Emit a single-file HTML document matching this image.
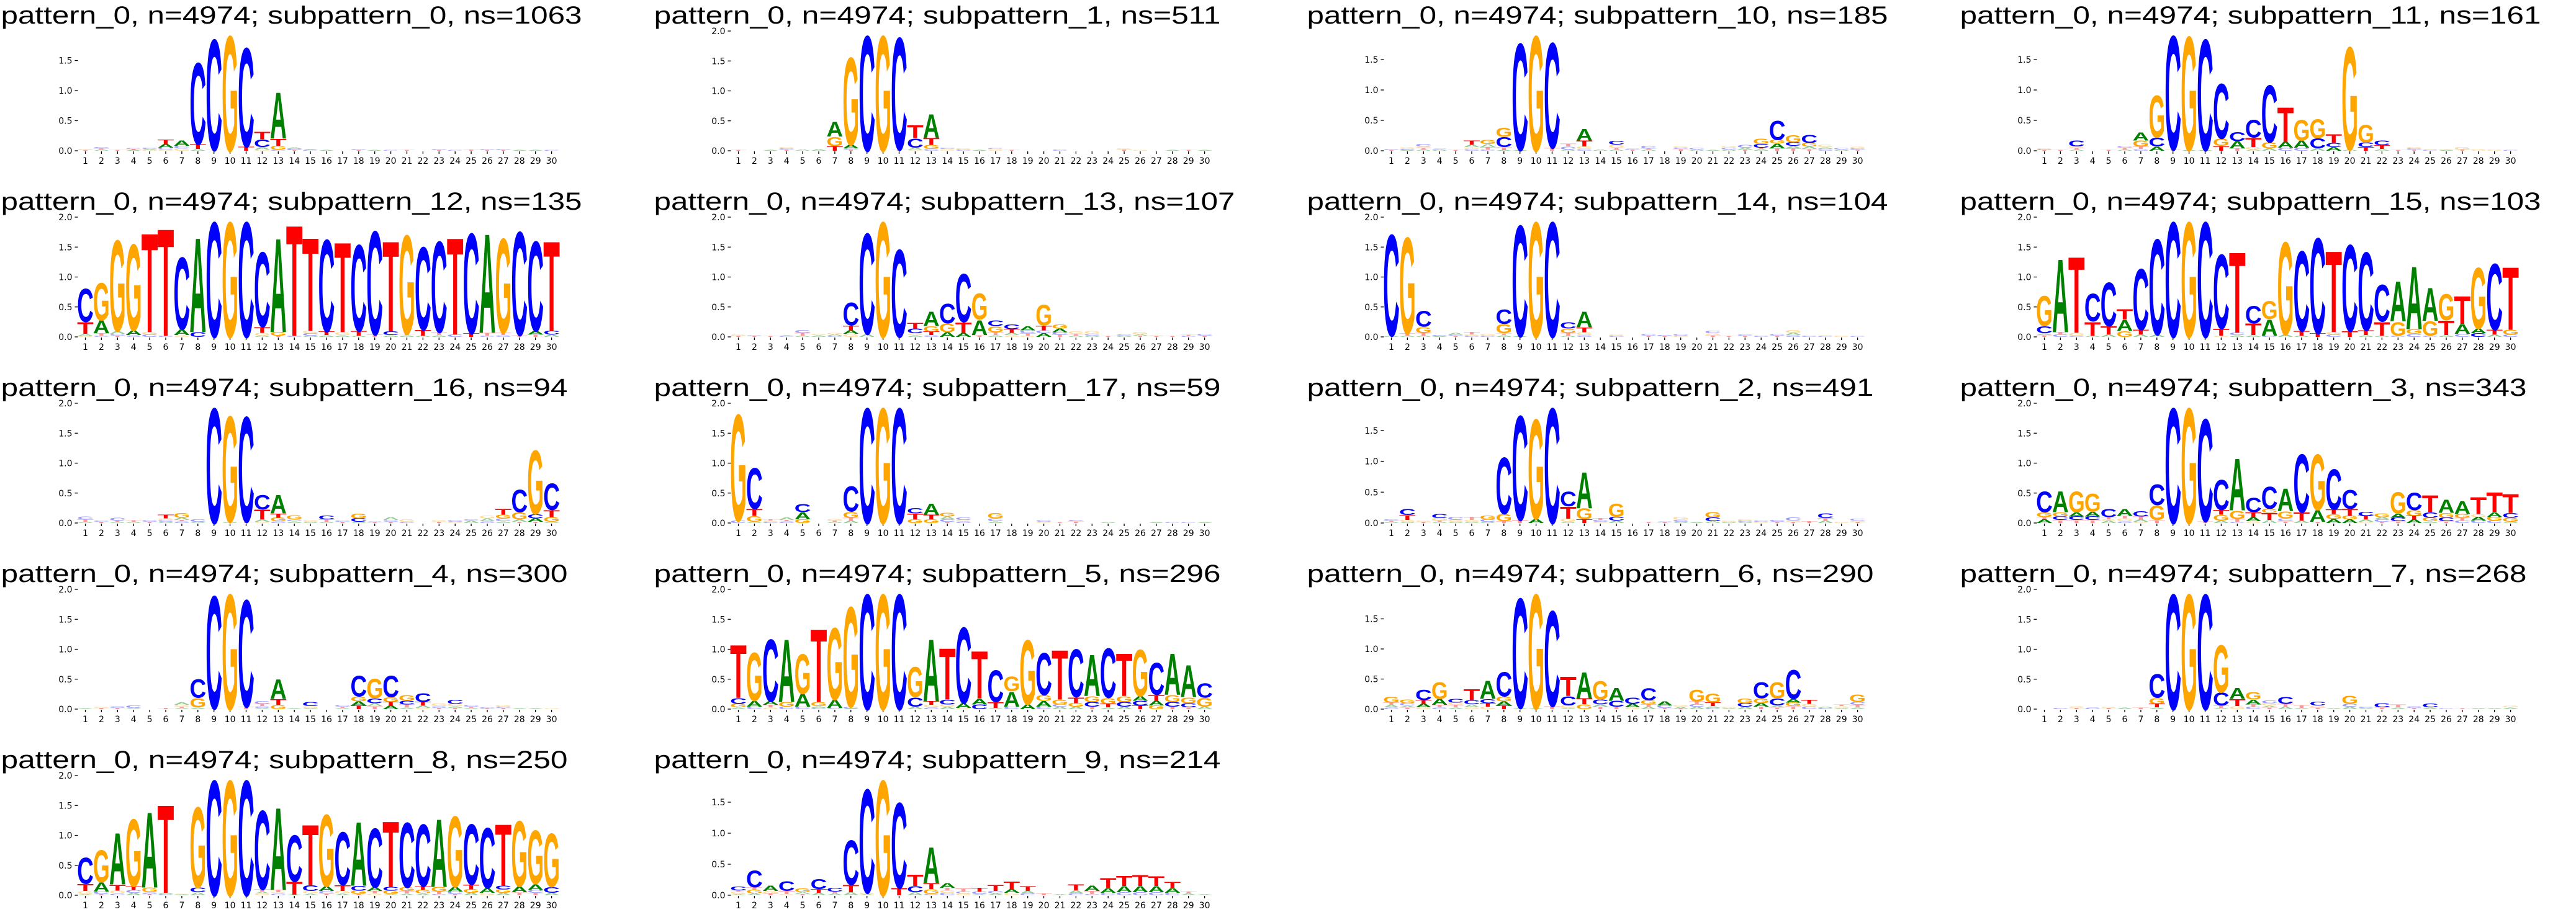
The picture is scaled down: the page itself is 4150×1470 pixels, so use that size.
<!DOCTYPE html>
<html><head><meta charset="utf-8">
<style>
html,body{margin:0;padding:0;background:#fff;}
svg{display:block;}
</style></head>
<body>
<svg id="chart" width="4150" height="1470" viewBox="0 0 4150 1470" xmlns="http://www.w3.org/2000/svg"></svg>
<script>
// panel metadata (title values)
const panelNames = ["subpattern_0","subpattern_1","subpattern_10","subpattern_11","subpattern_12","subpattern_13","subpattern_14","subpattern_15","subpattern_16","subpattern_17","subpattern_2","subpattern_3","subpattern_4","subpattern_5","subpattern_6","subpattern_7","subpattern_8","subpattern_9"];
const panelNs = [1063,511,185,161,135,107,104,103,94,59,491,343,300,296,290,268,250,214];
const panelYmax = [1.99,2,1.97,1.97,2,2,2,2,2,2,1.94,2,2,2,1.99,2,2,1.93];
const yTicks = [0,0.5,1,1.5,2];
const positions = Array.from({length:30},(_,i)=>i+1);
// stacks per position, bottom -> top, "Letter height"
const p0 = ["T.01 G.01","A.02 T.02 C.02","T.01","A.01 T.02 C.01","G.01 A.02 C.02","G.02 C.03 A.06 T.08","G.04 C.04 A.09","A.03 T.08 C1.41","T.01 C1.92","G1.99","T.07 C1.71","G.02 A.04 C.13 T.13","C.02 G.06 T.12 A.8","T.01 C.02 A.03","C.01 A.01","A.01","","T.01 C.01","A.01","C.01","T.01","","T.01 C.01","C.01","T.02","T.01 C.01","T.01 C.01","A.01","A.01","C.01"];
const p1 = ["T.01","","A.01","T.02 C.02 G.02","A.02","A.03","T.08 G.16 A.26","T.02 C.02 A.06 G1.52","C2.0","G2.0","T.02 C1.95","G.02 A.03 C.16 T.22","C.03 G.07 T.12 A.41","G.03 C.02","C.02 G.02","A.01","G.03 C.01","T.01","","","C.02","","","","T.02 G.02","G.01","","A.01","T.01","A.01"];
const p10 = ["T.01 C.01","A.01 C.02 G.03","A.02 T.03 G.02 C.04","A.02 C.01","T.01","C.03 G.03 A.04 T.07","C.02 T.04 A.05 G.07","A.01 T.05 C.17 G.16","A.01 C1.83","G1.97","T.05 C1.8","A.02 C.05 T.05","C.03 G.04 T.1 A.2","A.02","A.02 T.03 G.05 C.06","T.02 C.01","A.02 T.02 C.04","","T.03 C.02 G.02","A.02 C.03","A.01","A.02 C.03 G.03","T.02 A.03 C.05","A.03 T.02 C.06 G.09","T.04 A.08 G.06 C.33","T.04 A.04 C.06 G.12","T.03 A.04 G.06 C.14","C.03 A.03 G.04","A.02 C.03","T.02 C.02 G.03"];
const p11 = ["T.01 C.01 G.02","T.01","A.02 T.03 G.02 C.1","","T.01","A.02 T.03 C.03","C.03 T.04 G.1 A.14","A.07 C.15 G.72","T.02 C1.95","A.01 G1.95","A.01 C1.9","T.08 G.12 C.94","T.04 A.12 C.16","A.02 G.04 T.16 C.3","A.04 G.1 C.98","C.05 A.1 T.59","C.05 A.12 G.36","A.04 C.17 G.32","A.06 C.07 T.15","A.02 G1.76","T.06 C.08 G.3","A.03 T.06 C.08","T.01","T.02 C.02 G.02","C.01 G.01","A.01 G.01","T.02 G.04","G.03","G.02","C.01"];
const p12 = ["G.02 A.03 T.2 C.58","C.02 T.04 A.22 G.65","T.02 C.03 A.05 G1.58","C.03 A.08 G1.5","C.04 G.04 T1.72","C.02 T1.86","G.03 A.1 C1.25","C.08 A1.64","C2.0","G2.0","C2.0","A.02 G.05 T.1 C1.3","T.02 G.06 A1.63","C.02 T1.92","A.02 C.04 G.04 T1.62","A.03 T.06 C1.6","A.03 G.05 T1.56","A.02 T.08 C1.5","T.04 C1.8","A.03 C.06 T1.57","A.03 T.02 G1.72","A.02 T.1 C1.44","A.03 T.05 C1.58","C.04 T1.68","T.06 C1.74","C.02 T.05 A1.72","C.03 T.04 G1.64","T.03 C1.8","T.04 A.06 C1.56","A.04 C.06 T1.56"];
const p13 = ["T.02 G.02","T.01 C.01","T.01","C.01 A.01","A.02 T.05 C.05","A.03 G.02","C.02 A.02 G.03","G.05 A.06 T.08 C.4","A.05 C1.75","G2.0","C1.52","A.03 G.03 C.08 T.1","C.03 T.06 G.09 A.25","A.08 G.15 C.34","A.07 T.18 C.84","T.03 A.26 G.45","A.03 T.05 G.1 C.1","G.03 A.04 T.06 C.08","G.02 T.04 C.05 A.07","A.06 C.05 T.08 G.36","T.04 C.04 A.06 G.07","A.02 T.03 G.04","A.02 C.03 G.05","T.01","A.02 C.02","T.02 A.02 G.04","T.01 G.01","T.01","C.02 T.01","T.02 C.03"];
const p14 = ["A.02 C1.76","A.02 T.04 G1.67","A.02 T.05 G.1 C.27","A.01 C.02","T.02 C.02 A.03","C.02 G.02 T.04","C.02 G.03","A.03 T.03 G.16 C.25","A.01 C1.93","G2.0","C2.0","A.02 T.05 G.07 C.11","C.03 G.05 T.08 A.27","","C.02 G.02","","T.02 C.03","T.01 C.02","G.02 C.03","","T.03 G.03 C.04","T.01","T.02 C.02","C.02","T.02 C.03","C.03 A.04 G.05","C.02","C.01 G.01","G.02","C.01"];
const p15 = ["T.03 A.03 C.12 G.52","C.04 T.04 A1.27","C.02 G.05 T1.32","A.02 T.24 C.48","A.04 T.14 C.76","G.1 A.19 T.18","A.04 T.08 C1.06","A.04 C1.66","C2.0","G2.0","C2.0","G.02 T.12 C1.29","A.03 C.04 T1.4","A.03 T.2 C.3","C.02 A.28 G.31","A.04 G1.61","A.02 T.08 C1.39","T.06 C1.66","C.04 G.04 T1.41","T.1 C1.5","A.03 T.08 C1.36","A.02 T.24 C.64","C.02 G.24 A.7","C.05 G.08 A1.09","C.02 G.25 A.57","A.03 T.25 G.45","C.05 A.17 T.48","C.06 A.08 G1.06","A.04 T.08 C1.15","C.04 G.08 T1.09"];
const p16 = ["A.02 T.04 C.05","T.02 C.02","A.02 T.02 C.05","A.02 T.03","T.02 C.03","A.02 C.03 G.03 T.06","C.03 T.02 A.04 G.08","A.02 C.04","C2.0","A.02 G1.84","T.02 C1.83","G.02 A.04 T.17 C.25","C.03 G.06 T.07 A.32","A.03 C.03 G.07","A.02 G.03","A.02 T.04 C.06","T.02 C.02","A.02 C.06 G.08","T.01 C.01","T.02 C.03 A.05","C.02 G.04","","T.02 G.03","G.02 C.03","A.04 C.02","C.03 A.05 G.05","A.03 C.05 G.06 T.1","T.02 A.04 G.12 C.39","T.02 A.06 C.07 G1.11","A.02 G.08 T.12 C.46"];
const p17 = ["C.04 G1.85","A.02 G.1 T.12 C.71","C.02 G.02 T.02","C.03 T.02 A.04","G.06 A.12 C.14","","A.02 T.02 G.03","A.04 T.05 G.1 C.44","C2.0","G2.0","C2.0","G.06 T.1 C.09","G.06 T.08 A.19","T.02 C.04 A.05 G.06","C.03 G.02 C.04","","A.03 C.05 G.09","","","G.02 C.03","T.01","T.03 C.02","","A.02","","","A.01","C.01","C.01","A.01"];
const p2 = ["A.02 T.02 C.02","A.02 G.03 T.08 C.1","T.02 G.02","A.02 T.02 G.04 C.07","A.02 G.03 C.05","A.02 G.03 T.05","A.02 C.04 G.06","T.03 G.12 C.95","T.05 C1.76","A.07 G1.68","C1.94","A.02 G.05 T.2 C.25","T.06 G.18 A.61","G.02 C.03 T.03","A.04 C.06 G.22","","T.01","T.01 C.01","A.02 C.03 G.05","A.01","A.03 C.06 G.09","A.02 G.02","A.02 C.02 G.02","G.02 C.02","T.02 C.03","T.02 G.02 C.05","T.03","A.04 T.04 C.08","G.02","T.02 G.02 C.03"];
const p3 = ["A.06 T.04 G.08 C.36","T.05 C.06 G.07 A.36","T.05 C.06 A.07 G.36","T.05 C.06 A.08 G.31","A.04 G.02 T.04 C.14","C.03 G.05 T.04 A.12","G.02 A.04 T.05 C.09","T.05 G.25 C.36","C2.0","G2.0","T.03 C1.78","A.04 G.1 T.08 C.52","C.02 T.05 G.14 A.9","G.03 A.07 T.08 C.25","A.05 T.12 G.07 C.38","T.03 C.05 G.12 A.39","A.04 T.14 C1.01","T.02 A.2 G.96","A.07 G.08 T.08 C.7","A.06 G.06 T.12 C.33","G.02 A.04 T.06 C.07","T.02 C.04 A.04 G.06","T.03 C.06 A.07 G.37","A.06 T.06 G.1 C.3","A.03 G.06 C.09 T.29","T.03 C.06 G.08 A.23","C.04 T.05 G.06 A.22","C.04 A.06 G.05 T.29","C.04 G.06 A.08 T.34","A.02 G.07 C.08 T.33"];
const p4 = ["A.01","T.02 G.02","T.02 C.03","A.02 C.04","","T.02","A.02 T.02 G.03 A.04","A.03 G.16 C.32","T.01 C1.96","G2.0","T.04 C1.86","A.02 C.03 T.04 C.05","G.07 T.1 A.34","A.01","A.02 G.03 C.07","","A.02 T.02 C.03","T.06 A.07 G.08 C.36","T.05 A.05 C.08 G.34","A.06 T.06 G.08 C.37","A.03 T.05 C.06 G.1","G.02 A.04 T.06 C.15","T.02 C.03 G.05","T.02 A.03 G.04 C.07","A.02 T.02 C.03","T.01 C.02","T.02 C.02 G.03","A.01","A.01","G.01"];
const p5 = ["A.03 G.06 C.1 T.92","C.04 A.1 G.84","G.03 T.04 A.06 C1.08","C.04 G.08 A1.09","C.04 A.22 G.69","C.02 A.03 G.07 T1.27","C.02 A.14 G1.25","A.01 C.03 G1.74","C2.0","G2.0","C2.0","A.04 C.16 G.52","C.03 G.04 T.06 A1.08","A.04 G.04 C.08 T.89","G.02 A.08 C1.32","C.08 A.1 T.82","A.02 T.1 C.55","C.04 A.26 G.26","A.08 G1.12","C.04 A.1 G.1 C.73","A.04 C.04 G.08 T.86","A.04 G.06 T.1 C.83","T.04 C.08 G.1 A.72","A.03 T.06 G.1 C.86","A.04 C.08 G.1 T.74","T.06 C.08 A.08 G.81","G.06 A.08 T.1 C.56","T.04 C.08 G.12 A.72","T.03 C.07 G.1 A.56","A.04 G.15 C.25"];
const p6 = ["C.03 A.04 T.04 G.1","T.03 A.03 C.04 G.06","G.03 A.06 T.06 C.18","C.03 T.04 A.1 G.29","A.03 T.04 G.04 C.06","G.03 A.05 C.07 T.19","G.04 T.06 C.07 A.31","T.06 A.07 G.08 C.42","A.02 C1.9","A.01 G1.98","T.05 C1.65","A.02 G.04 C.16 T.33","G.08 T.1 A.45","T.04 A.04 C.08 G.32","T.04 C.1 A.22","G.03 A.06 C.11","A.04 T.04 G.07 C.21","T.02 C.04 A.07","T.01 A.03 G.03","A.04 C.04 T.05 G.2","C.02 A.03 T.06 G.16","A.02 G.02","A.04 C.06 G.08","T.04 A.06 G.08 C.28","T.03 A.03 C.12 G.28","T.05 G.06 A.06 C.5","C.04 G.05 T.07","C.02 A.02","A.02 G.03 T.03","A.03 T.04 C.05 G.13"];
const p7 = ["","C.02","T.02 G.03","C.03","T.02 G.02","A.03","T.03","A.03 T.06 G.1 C.41","C2.0","G2.0","C2.0","A.02 T.04 C.22 G.82","G.05 T.12 A.19","C.04 T.04 A.08 G.13","T.03 A.03 G.04 C.05","A.04 T.05 C.12","A.02 T.05","T.03 G.03 C.06","A.02","A.04 C.05 G.14","A.02 C.02","T.03 C.07","A.03 T.05","T.02 C.03","A.03 C.06","C.01","T.01","A.02","A.02","A.03 G.03"];
const p8 = ["A.02 G.05 T.12 C.45","T.02 C.04 A.16 G.56","C.03 G.05 T.1 A.89","A.04 C.05 T.06 G1.17","T.02 C.03 G.08 A1.31","C.02 A.02 T1.53","A.01 G.01","A.05 C.08 G1.4","C2.0","G2.0","C2.0","G.03 A.03 T.04 C1.37","C.03 G.02 T.04 A1.43","A.01 T.22 C.81","A.03 G.04 C.1 T1.05","T.03 C.04 A.08 G1.25","A.03 G.04 T.1 C.92","T.02 G.06 C.08 A1.11","G.03 T.04 A.06 C1.03","A.02 G.06 C.06 T1.14","A.03 T.04 G.06 C1.13","A.03 G.06 T.06 C1.08","C.02 T.04 G.08 A1.18","T.02 C.04 A.08 G1.23","A.04 G.06 T.08 C1.05","G.04 A.08 C1.05","A.04 G.06 C.06 T1.07","T.05 A.1 G1.14","T.04 C.05 A.1 G.93","A.04 C.1 G.93"];
const p9 = ["A.02 G.04 T.02 C.06","A.03 G.06 T.04 C.28","T.03 G.04 A.09","G.02 T.05 C.16","T.02 A.03 G.06","A.04 T.06 C.17","A.03 T.03 C.06","A.05 T.12 C.75","A.02 G.02 C1.74","G1.93","T.12 C1.43","A.05 C.1 T.19","C.02 G.08 T.1 A.6","C.04 G.04 T.04 A.08","G.03 C.03 T.05","A.02 C.04 T.06","A.03 C.04 T.1","G.04 A.06 T.13","C.03 A.04 T.08","T.03","A.02","C.03 A.05 T.1","C.02 T.05 A.09","C.04 A.08 T.16","C.05 A.1 T.17","C.05 A.1 T.18","C.05 A.1 T.16","C.04 A.08 T.1","A.03 T.03","A.02"];
const stacks = [p0,p1,p10,p11,p12,p13,p14,p15,p16,p17,p2,p3,p4,p5,p6,p7,p8,p9];

const NS = "http://www.w3.org/2000/svg";
const svg = document.getElementById('chart');
const colors = {A:"#008000",C:"#0000ff",G:"#ffa500",T:"#ff0000"};
const COL0 = 137.5, COLSTEP = 1052, ROW0 = 243, ROWSTEP = 300, STEP = 25.9, PLOTH = 193, LW = 24.5;
function mk(tag, attrs){const e=document.createElementNS(NS,tag);for(const k in attrs)e.setAttribute(k,attrs[k]);return e;}

stacks.forEach((panel, pi) => {
  const r = Math.floor(pi/4), c = pi%4;
  const x1 = COL0 + COLSTEP*c;
  const y0 = ROW0 + ROWSTEP*r;
  const ymax = panelYmax[pi];
  const xScale = p => x1 + (p-1)*STEP;
  const yScale = v => y0 - v*PLOTH/ymax;
  const g = mk('g',{});
  
  
  svg.appendChild(g);
  // title
  const title = 'pattern_0, n=4974; ' + panelNames[pi] + ', ns=' + panelNs[pi];
  const t = mk('text',{x: x1-136, y: y0-205, 'font-family':'"Liberation Sans", sans-serif', 'font-size':40, fill:'#000', textLength: (title.length*23.4).toFixed(0), lengthAdjust:'spacingAndGlyphs'});
  t.textContent = title;
  
  
  g.appendChild(t);
  // y ticks
  yTicks.forEach(v => {
    if (v > ymax + 1e-9) return;
    const yy = yScale(v);
    const tk = mk('line',{x1:x1-17,x2:x1-12,y1:yy,y2:yy,stroke:'#000','stroke-width':1.3});
    
    
    g.appendChild(tk);
    const lb = mk('text',{x:x1-21,y:yy+5,'text-anchor':'end','font-family':'"DejaVu Sans", sans-serif','font-size':14,fill:'#000'});
    lb.textContent = v.toFixed(1);
    
    
    g.appendChild(lb);
  });
  // x ticks
  positions.forEach(p => {
    const xx = xScale(p);
    const tk = mk('line',{x1:xx,x2:xx,y1:y0+1,y2:y0+5,stroke:'#000','stroke-width':1.3});
    
    
    g.appendChild(tk);
    const lb = mk('text',{x:xx,y:y0+21,'text-anchor':'middle','font-family':'"DejaVu Sans", sans-serif','font-size':14,fill:'#000'});
    lb.textContent = p;
    
    
    g.appendChild(lb);
  });
  // letters
  panel.forEach((stack, i) => {
    if (!stack) return;
    let cum = 0;
    stack.split(' ').forEach(tok => {
      const L = tok[0], h = parseFloat(tok.slice(1));
      if (!(h > 0)) return;
      const yb = yScale(cum), yt = yScale(cum+h);
      cum += h;
      const hp = yb - yt;
      const xc = xScale(positions[i]);
      const sx = LW/66, sy = hp/72.5;
      const el = mk('text',{x:-3, y:0, 'font-family':'"Liberation Sans", sans-serif','font-weight':'bold','font-size':100,
        fill: colors[L], textLength:72, lengthAdjust:'spacingAndGlyphs',
        transform:`translate(${(xc-LW/2).toFixed(2)},${yb.toFixed(2)}) scale(${sx.toFixed(4)},${sy.toFixed(4)})`});
      if (h < 0.06) el.setAttribute('opacity', '0.4');
      el.textContent = L;
      
      
      g.appendChild(el);
    });
  });
});
</script>
</body></html>
